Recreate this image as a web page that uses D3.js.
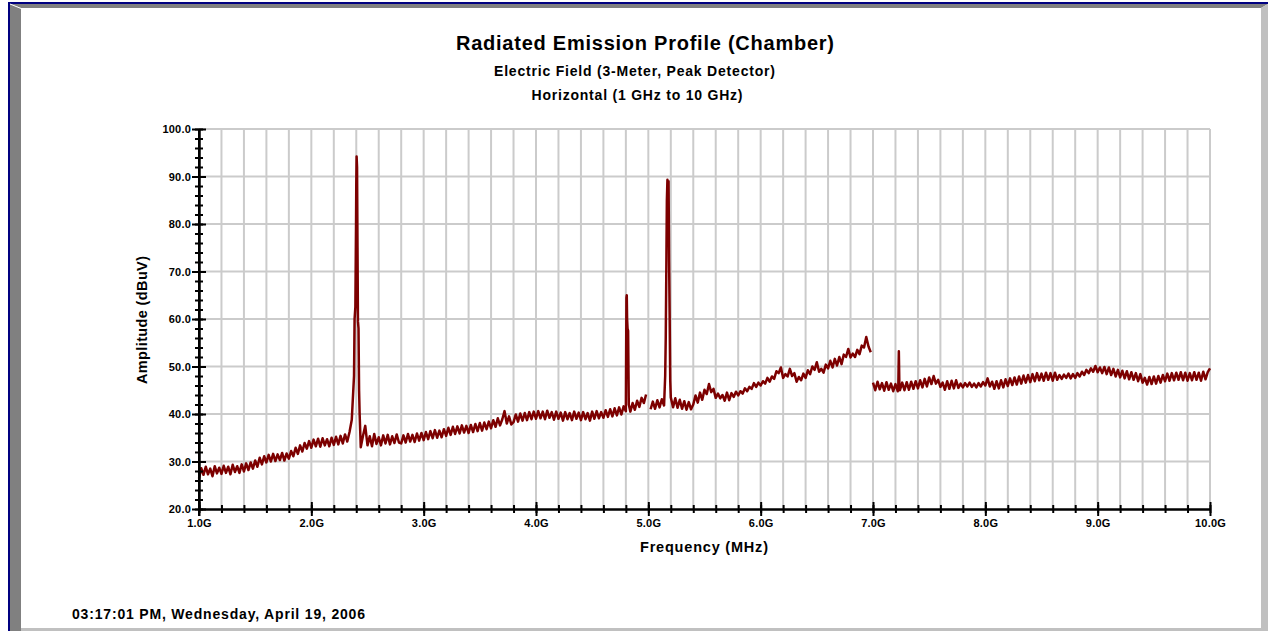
<!DOCTYPE html>
<html>
<head>
<meta charset="utf-8">
<script src="https://cdn.jsdelivr.net/npm/d3@7"></script>
<style>
  html, body { margin: 0; padding: 0; background: #fff; }
  svg { display: block; font-family: 'Liberation Sans', Arial, sans-serif; font-weight: bold; }
</style>
</head>
<body>
<div class="chart"></div>
<script>
const titleLines = [
  'Radiated Emission Profile (Chamber)',
  'Electric Field (3-Meter, Peak Detector)',
  'Horizontal (1 GHz to 10 GHz)'
];
const xAxisTitle = 'Frequency (MHz)';
const yAxisTitle = 'Amplitude (dBuV)';
const timestamp  = '03:17:01 PM, Wednesday, April 19, 2006';

const xMajorTicks = [1, 2, 3, 4, 5, 6, 7, 8, 9, 10];
const yMajorTicks = [20, 30, 40, 50, 60, 70, 80, 90, 100];

// sweep: one reading every 0.02 GHz, three bands (gaps at 5 GHz and 7 GHz)
const sweepStep  = 0.02;
const bandStarts = [1.00, 5.02, 7.00];

const lowBandAmp = [
  26.4, 28.6, 27.2, 28.9, 27.3, 28.5, 26.9, 29.0, 27.5, 28.7,
  27.4, 29.1, 27.6, 28.9, 27.3, 29.3, 27.8, 29.0, 27.6, 29.4,
  27.9, 29.6, 28.2, 29.8, 28.5, 30.2, 28.9, 30.8, 29.4, 31.1,
  29.8, 31.4, 30.0, 31.6, 30.1, 31.5, 30.3, 31.8, 30.2, 31.7,
  30.6, 32.2, 31.1, 32.9, 31.6, 33.4, 32.1, 33.9, 32.7, 34.3,
  32.9, 34.6, 33.2, 34.8, 33.1, 34.9, 33.4, 34.7, 33.2, 35.0,
  33.5, 35.2, 33.6, 35.4, 33.8, 35.7, 34.2, 36.2, 38.8, 48.0,
  88.0, 58.0, 33.0, 35.4, 37.5, 33.4, 35.3, 33.2, 35.8, 33.7,
  35.1, 33.4, 35.5, 33.8, 35.6, 33.6, 35.3, 33.9, 35.7, 34.0,
  33.8, 35.5, 34.0, 35.8, 34.2, 35.6, 34.1, 35.9, 34.4, 36.0,
  34.5, 36.2, 34.7, 36.4, 34.9, 36.6, 35.0, 36.5, 35.1, 36.8,
  35.4, 37.1, 35.6, 37.3, 35.8, 37.4, 35.9, 37.6, 36.1, 37.5,
  36.0, 37.7, 36.2, 37.9, 36.4, 38.1, 36.5, 38.2, 36.8, 38.4,
  37.0, 38.7, 37.3, 39.1, 37.6, 38.9, 40.6, 38.0, 39.5, 37.8,
  38.3, 39.9, 38.4, 40.1, 38.6, 40.2, 38.7, 40.4, 38.9, 40.5,
  39.0, 40.6, 39.1, 40.5, 38.9, 40.7, 39.2, 40.4, 38.8, 40.5,
  39.0, 40.3, 38.6, 40.4, 38.9, 40.2, 38.7, 40.5, 39.0, 40.3,
  38.7, 40.4, 38.9, 40.2, 38.6, 40.5, 39.0, 40.6, 39.1, 40.4,
  39.2, 40.8, 39.4, 41.0, 39.5, 41.2, 39.7, 41.4, 39.9, 41.6,
  40.6, 57.5, 40.5, 42.3, 40.9, 42.8, 41.5, 43.4, 42.3, 44.1
];

const midBandAmp = [
  41.0, 42.6, 41.1, 42.9, 41.4, 43.1, 41.8, 70.0, 89.0,
  43.5, 41.4, 43.3, 41.3, 43.0, 41.1, 42.7, 40.9, 42.5, 41.0,
  42.0, 43.9, 42.4, 44.5, 43.0, 45.1, 44.2, 46.3, 44.6, 45.3,
  43.4, 44.3, 43.3, 44.0, 42.8, 44.5, 42.9, 44.4, 43.6, 44.7,
  43.9, 44.8, 44.3, 45.4, 44.8, 45.7, 45.3, 46.5, 45.7, 46.6,
  46.0, 46.9, 46.4, 47.6, 46.8, 47.9, 47.4, 49.0, 48.6, 49.8,
  47.6, 48.4, 47.9, 49.5, 48.0, 48.6, 46.8, 47.8, 47.1, 48.5,
  47.6, 49.2, 48.4, 50.0, 49.3, 50.9, 48.9, 49.5, 48.7, 50.4,
  49.6, 51.2, 49.8, 51.6, 50.2, 52.0, 50.5, 52.5, 52.0, 53.7,
  51.9, 52.7, 52.0, 53.5, 52.6, 54.4, 54.0, 56.2, 54.2, 53.0
];

const highBandAmp = [
  46.6, 45.0, 46.8, 45.2, 46.5, 44.9, 46.7, 45.1, 46.4, 44.8,
  46.3, 44.8, 45.0, 46.6, 45.0, 46.7, 45.1, 46.8, 45.3, 46.9,
  45.4, 47.1, 45.6, 47.4, 45.8, 47.7, 46.3, 48.0, 46.4, 47.2,
  45.7, 46.6, 45.1, 46.9, 45.3, 47.0, 45.4, 47.1, 45.5, 46.4,
  45.6, 46.5, 45.8, 46.6, 45.7, 46.4, 45.6, 46.5, 45.8, 46.7,
  46.0, 47.5, 45.8, 46.8, 45.3, 46.9, 45.4, 47.1, 45.6, 47.3,
  45.9, 47.5, 46.1, 47.7, 46.2, 47.9, 46.4, 48.1, 46.6, 48.2,
  46.7, 48.4, 46.9, 48.6, 47.1, 48.5, 47.0, 48.7, 47.2, 48.6,
  47.0, 48.7, 47.2, 48.2, 47.4, 48.3, 47.6, 48.5, 47.5, 48.4,
  47.6, 48.6, 47.9, 48.9, 48.2, 49.3, 48.6, 49.6, 48.9, 50.1,
  48.8, 49.8, 48.6, 49.9, 48.4, 49.8, 48.2, 49.5, 47.9, 49.3,
  47.7, 49.1, 47.5, 49.0, 47.3, 48.8, 47.2, 48.6, 46.9, 48.4,
  46.6, 47.6, 46.2, 47.8, 46.3, 47.9, 46.4, 48.0, 46.6, 48.2,
  46.9, 48.5, 47.0, 48.6, 47.1, 48.7, 47.2, 48.8, 47.1, 48.7,
  47.0, 48.6, 47.1, 48.8, 47.2, 48.7, 47.0, 48.9, 47.3, 48.8,
  49.6
];

// extra readings between sweep points, around the narrow carriers
const spikeFreq = [
  2.385, 2.392, 2.398, 2.403, 2.407, 2.411, 2.415, 2.425, 2.430,
  4.805, 4.808, 4.811, 4.815, 4.826,
  5.150, 5.155, 5.165, 5.170, 5.175, 5.185, 5.190, 5.195,
  7.225, 7.230, 7.235
];
const spikeAmp = [
  60.0, 62.5, 80.0, 94.2, 92.0, 75.0, 59.5, 45.0, 40.0,
  64.5, 65.0, 60.0, 58.0, 42.0,
  48.0, 56.0, 85.0, 89.3, 87.0, 72.0, 60.0, 47.0,
  45.6, 53.2, 45.8
];

const W = 1268, H = 631;
const plot = { left: 199, right: 1210, top: 129, bottom: 509 };

function bandPoints(start, amps) {
  const pts = amps.map((a, i) => ({ f: +(start + i * sweepStep).toFixed(3), a }));
  const end = pts[pts.length - 1].f;
  spikeFreq.forEach((f, i) => {
    if (f > start && f < end) pts.push({ f, a: spikeAmp[i] });
  });
  return pts.sort((p, q) => p.f - q.f);
}

const bands = [lowBandAmp, midBandAmp, highBandAmp].map((amps, i) => bandPoints(bandStarts[i], amps));

const svg = d3.select('.chart').append('svg').attr('width', W).attr('height', H);

// window frame
svg.append('rect').attr('x', 8).attr('y', 2).attr('width', W - 8).attr('height', 2).attr('fill', '#000080');
svg.append('rect').attr('x', 8).attr('y', 2).attr('width', 2).attr('height', H - 2).attr('fill', '#000080');
svg.append('polygon').attr('points', '10,4 1268,4 1261,8 21,8').attr('fill', '#808080');
svg.append('polygon').attr('points', '10,4 21,8 21,631 10,631').attr('fill', '#808080');
svg.append('polygon').attr('points', '1261,8 1268,4 1268,631 1261,631').attr('fill', '#c0c0c0');
svg.append('rect').attr('x', 21).attr('y', 628).attr('width', 1240).attr('height', 3).attr('fill', '#c0c0c0');
svg.append('line').attr('x1', 10).attr('y1', 4).attr('x2', 21).attr('y2', 8.5)
  .attr('stroke', '#fff').attr('stroke-width', 1);

const x = d3.scaleLinear().domain([1, 10]).range([plot.left, plot.right]);
const y = d3.scaleLinear().domain([20, 100]).range([plot.bottom, plot.top]);

const xMinor = d3.range(0, 46).map(i => 1 + i * 0.2);
const yMinor = d3.range(0, 41).map(i => 20 + i * 2);

// grid
const grid = svg.append('g').attr('stroke', '#cbcbcb').attr('stroke-width', 2);
grid.selectAll('.vgrid').data(xMinor.slice(1)).enter().append('line')
  .attr('x1', d => x(d)).attr('x2', d => x(d))
  .attr('y1', plot.top).attr('y2', plot.bottom);
grid.selectAll('.hgrid').data(yMajorTicks.slice(1)).enter().append('line')
  .attr('x1', plot.left).attr('x2', plot.right)
  .attr('y1', d => y(d)).attr('y2', d => y(d));

// trace
const line = d3.line().x(d => x(d.f)).y(d => y(d.a));
svg.append('g').selectAll('path').data(bands).enter().append('path')
  .attr('d', line)
  .attr('fill', 'none')
  .attr('stroke', '#7d0000')
  .attr('stroke-width', 2.5)
  .attr('stroke-linejoin', 'round');

// axes
function styleAxis(g) {
  g.selectAll('path, line').attr('stroke', '#000').attr('stroke-width', 2);
  g.selectAll('text').attr('fill', '#000').attr('font-size', 11)
    .attr('letter-spacing', 0.2).attr('font-family', 'Liberation Sans, Arial, sans-serif');
}

const yMinorAxis = svg.append('g').attr('transform', `translate(${plot.left},0)`)
  .call(d3.axisLeft(y).tickValues(yMinor).tickSize(4).tickSizeOuter(0).tickFormat(''));
yMinorAxis.selectAll('.tick line').attr('x1', 4);
styleAxis(yMinorAxis);

const yAxis = svg.append('g').attr('transform', `translate(${plot.left},0)`)
  .call(d3.axisLeft(y).tickValues(yMajorTicks).tickSize(7).tickSizeOuter(0).tickPadding(1)
    .tickFormat(d3.format('.1f')));
yAxis.selectAll('.tick line').attr('x1', 7);
styleAxis(yAxis);

const xMinorAxis = svg.append('g').attr('transform', `translate(0,${plot.bottom})`)
  .call(d3.axisBottom(x).tickValues(xMinor).tickSize(4).tickSizeOuter(0).tickFormat(''));
xMinorAxis.selectAll('.tick line').attr('y1', -4);
styleAxis(xMinorAxis);

const xAxis = svg.append('g').attr('transform', `translate(0,${plot.bottom})`)
  .call(d3.axisBottom(x).tickValues(xMajorTicks).tickSize(7).tickSizeOuter(0).tickPadding(3)
    .tickFormat(d => d3.format('.1f')(d) + 'G'));
xAxis.selectAll('.tick line').attr('y1', -7);
styleAxis(xAxis);
svg.append('line').attr('x1', plot.left).attr('x2', plot.left)
  .attr('y1', plot.top).attr('y2', plot.bottom + 7)
  .attr('stroke', '#000').attr('stroke-width', 2);

// titles
function label(text, px, py, size, width, anchor) {
  const t = svg.append('text')
    .attr('x', px).attr('y', py)
    .attr('font-size', size)
    .attr('text-anchor', anchor || 'middle')
    .attr('fill', '#000')
    .text(text);
  if (width) t.attr('textLength', width).attr('lengthAdjust', 'spacing');
  return t;
}

label(titleLines[0], 645, 50, 20, 378);
label(titleLines[1], 634.5, 76, 14, 281);
label(titleLines[2], 637, 100, 14, 211);
label(xAxisTitle, 704, 552, 14.5, 128);
label(yAxisTitle, 0, 0, 14.5, 128)
  .attr('transform', 'translate(147,320) rotate(-90)');
label(timestamp, 72, 619, 14, 293, 'start');
</script>
</body>
</html>
